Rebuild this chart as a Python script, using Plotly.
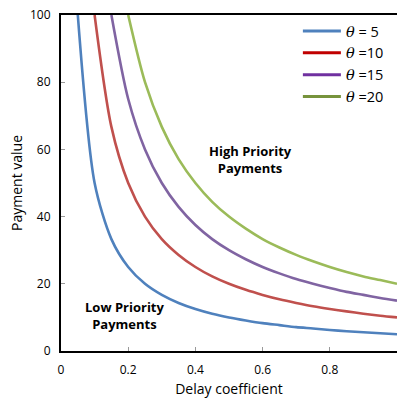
import plotly.graph_objects as go

delay = [0.05, 0.10, 0.15, 0.20, 0.25, 0.30, 0.35, 0.40, 0.45, 0.50,
         0.55, 0.60, 0.65, 0.70, 0.75, 0.80, 0.85, 0.90, 0.95, 1.00]

theta5 = [100, 50, 33.3, 25, 20, 16.7, 14.3, 12.5, 11.1, 10,
          9.1, 8.3, 7.7, 7.1, 6.7, 6.25, 5.9, 5.6, 5.3, 5]
theta10 = [None, 100, 66.7, 50, 40, 33.3, 28.6, 25, 22.2, 20,
           18.2, 16.7, 15.4, 14.3, 13.3, 12.5, 11.8, 11.1, 10.5, 10]
theta15 = [None, None, 100, 75, 60, 50, 42.9, 37.5, 33.3, 30,
           27.3, 25, 23.1, 21.4, 20, 18.75, 17.6, 16.7, 15.8, 15]
theta20 = [None, None, None, 100, 80, 66.7, 57.1, 50, 44.4, 40,
           36.4, 33.3, 30.8, 28.6, 26.7, 25, 23.5, 22.2, 21.1, 20]

series = [theta5, theta10, theta15, theta20]
TH = '<span style="font-family:DejaVu Serif;font-style:italic">θ</span>'
labels = [TH + " = 5", TH + " =10", TH + " =15", TH + " =20"]
curve_colors = ["#4F81BD", "#C0504D", "#8064A2", "#9BBB59"]
legend_colors = ["#4F81BD", "#C00000", "#7030A0", "#77933C"]

x_ticks = [0, 0.2, 0.4, 0.6, 0.8, 1.0]
x_ticktext = ["0", "0.2", "0.4", "0.6", "0.8", "1"]
y_ticks = [0, 20, 40, 60, 80, 100]

FONT = "Open Sans, Lato, sans-serif"

fig = go.Figure()
for ys, c in zip(series, curve_colors):
    fig.add_trace(go.Scatter(x=delay, y=ys, mode="lines",
                             line=dict(color=c, width=2.6, shape="spline", smoothing=0.8),
                             showlegend=False, connectgaps=False))
for lab, c in zip(labels, legend_colors):
    fig.add_trace(go.Scatter(x=[None], y=[None], mode="lines", name=lab,
                             line=dict(color=c, width=3)))

fig.add_annotation(x=0.565, y=57, text="<b>High Priority<br>Payments</b>", showarrow=False,
                   font=dict(family=FONT, size=13, color="#000"), xref="x", yref="y")
fig.add_annotation(x=0.19, y=10.5, text="<b>Low Priority<br>Payments</b>", showarrow=False,
                   font=dict(family=FONT, size=13, color="#000"), xref="x", yref="y")

fig.update_layout(
    width=398, height=398,
    margin=dict(l=61, r=1, t=15, b=47),
    paper_bgcolor="white", plot_bgcolor="white",
    font=dict(family=FONT, size=12, color="#000"),
    showlegend=True,
    legend=dict(x=0.705, y=1.0, xanchor="left", yanchor="top",
                bgcolor="rgba(0,0,0,0)", font=dict(size=14.5, family=FONT),
                tracegroupgap=0, itemwidth=38),
    xaxis=dict(range=[0, 1], tickvals=x_ticks, ticktext=x_ticktext,
               showgrid=False, zeroline=False, showline=True, linecolor="#000",
               linewidth=2, mirror=True, ticks="inside", ticklen=4, tickcolor="#999",
               ticklabelstandoff=7,
               title=dict(text="Delay coefficient", font=dict(size=14), standoff=8),
               tickfont=dict(size=12)),
    yaxis=dict(range=[0, 100], tickvals=y_ticks,
               showgrid=False, zeroline=False, showline=True, linecolor="#000",
               linewidth=2, ticks="inside", ticklen=4, tickcolor="#999",
               ticklabelstandoff=6,
               title=dict(text="Payment value", font=dict(size=14), standoff=4),
               tickfont=dict(size=12)),
)

fig.write_html("out.html")
